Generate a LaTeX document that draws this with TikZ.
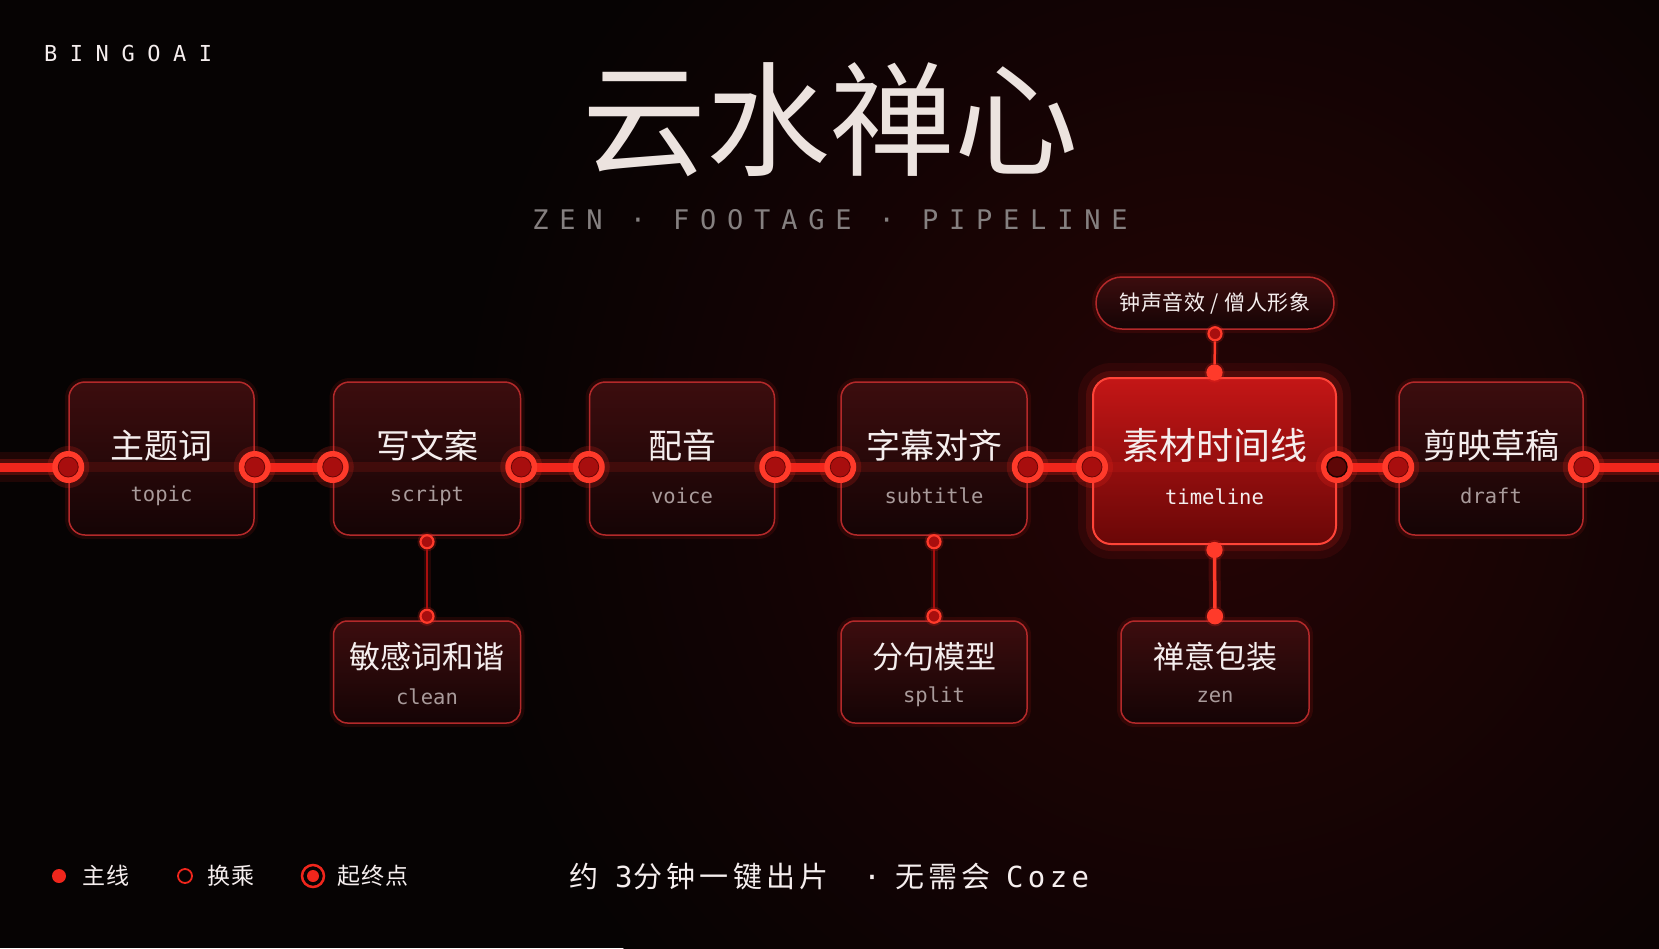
\documentclass[tikz,border=0pt]{standalone}
\usepackage{fontspec}
\setmainfont{DejaVu Sans}
\newfontfamily\cjk{Noto Sans CJK SC}
\newfontfamily\cjkls{Noto Sans CJK SC}[LetterSpace=15]
\newfontfamily\cjklg{Noto Sans CJK SC}[LetterSpace=5]
\newfontfamily\cjkpill{Noto Sans CJK SC}[LetterSpace=3]
\newfontfamily\mono{DejaVu Sans Mono}
\newfontfamily\monols{DejaVu Sans Mono}[LetterSpace=15]
\newfontfamily\monosub{DejaVu Sans Mono}[LetterSpace=40]
\newfontfamily\monobrand{DejaVu Sans Mono}[LetterSpace=57]
\usetikzlibrary{calc}

\definecolor{bg}{HTML}{060303}
\definecolor{glowc}{HTML}{260405}
\definecolor{boxtop}{HTML}{3C0D0E}
\definecolor{boxbot}{HTML}{150405}
\definecolor{boxedge}{HTML}{B3292A}
\definecolor{tltop}{HTML}{C41616}
\definecolor{tlbot}{HTML}{6A0707}
\definecolor{tledge}{HTML}{FF4438}
\definecolor{mainred}{HTML}{F0261C}
\definecolor{glowred}{HTML}{FF2A20}
\definecolor{portfill}{HTML}{A80E0E}
\definecolor{portedge}{HTML}{FF3A2A}
\definecolor{portdark}{HTML}{6A0606}
\definecolor{tlportin}{HTML}{5E0707}
\definecolor{textzh}{HTML}{F5EEEE}
\definecolor{texten}{HTML}{A99B9B}
\definecolor{titlec}{HTML}{ECE3DF}
\definecolor{subc}{HTML}{858080}

\begin{document}
\begin{tikzpicture}[x=1pt,y=-1pt,
  box/.style={draw=boxedge, line width=1.5pt, rounded corners=16pt,
    minimum width=185pt, minimum height=153pt, inner sep=0pt,
    top color=boxtop, bottom color=boxbot,
    preaction={draw=glowred, line width=8pt, draw opacity=0.10}},
  subbox/.style={box, minimum height=102pt, rounded corners=14pt},
  tlbox/.style={draw=tledge, line width=2pt, rounded corners=18pt,
    minimum width=243pt, minimum height=166pt, inner sep=0pt,
    top color=tltop, bottom color=tlbot,
    preaction={draw=glowred, line width=30pt, draw opacity=0.08},
    preaction={draw=glowred, line width=14pt, draw opacity=0.15}},
  pillbox/.style={draw=boxedge, line width=1.5pt, rounded corners=26pt,
    minimum width=238pt, minimum height=52pt, inner sep=0pt,
    top color=boxtop, bottom color=boxbot,
    preaction={draw=glowred, line width=8pt, draw opacity=0.10}},
  zh/.style={text=textzh, font=\cjk\fontsize{34}{40}\selectfont, inner sep=0pt},
  zhbig/.style={zh, font=\cjk\fontsize{37}{44}\selectfont},
  zhsub/.style={zh, font=\cjk\fontsize{31}{37}\selectfont},
  en/.style={text=texten, font=\mono\fontsize{20.5}{24}\selectfont, inner sep=0pt},
  foot/.style={text=textzh, inner sep=0pt, anchor=base west},
  mainline/.style={draw=mainred, line width=9pt,
    preaction={draw=glowred, line width=30pt, draw opacity=0.10},
    preaction={draw=glowred, line width=16pt, draw opacity=0.22}},
  innerline/.style={draw=glowred, line width=10pt, draw opacity=0.12},
  port/.style={circle, minimum size=32pt, inner sep=0pt, fill=portedge,
    preaction={draw=glowred, line width=10pt, draw opacity=0.18}},
  portin/.style={circle, minimum size=20pt, inner sep=0pt, fill=portfill,
    draw=portdark, line width=0.8pt},
  sport/.style={circle, minimum size=13pt, inner sep=0pt, fill=portfill,
    draw=portedge, line width=2.2pt,
    preaction={draw=glowred, line width=6pt, draw opacity=0.2}},
  bport/.style={sport, minimum size=14pt, fill=portedge},
  subline/.style={draw=portfill, line width=2pt,
    preaction={draw=glowred, line width=7pt, draw opacity=0.12}},
  tlline/.style={draw=portedge, line width=3.5pt,
    preaction={draw=glowred, line width=12pt, draw opacity=0.15}},
]
\useasboundingbox (0,0) rectangle (1659,948);
\clip (0,0) rectangle (1659,948);
\fill[bg] (0,0) rectangle (1659,948);
\shade[inner color=glowc, outer color=bg] (1214,470) circle (760pt);

% title
\node[inner sep=0pt, text=titlec, font=\cjk\fontsize{124}{130}\selectfont] (title) at (830,120) {云水禅心};
\node[inner sep=0pt, text=subc, font=\monosub\fontsize{27}{30}\selectfont] (subtitle) at (830,220) {ZEN · FOOTAGE · PIPELINE};
\node[inner sep=0pt, anchor=west, text=textzh, font=\monobrand\fontsize{22}{26}\selectfont] (brand) at (44,53) {BINGOAI};

% axis
\coordinate (L) at (0,467);
\coordinate (R) at (1659,467);

% boxes
\node[box] (topic) at (161.5,458.5) {};
\node[box, minimum width=187pt] (script) at (427,458.5) {};
\node[box] (voice) at (682,458.5) {};
\node[box, minimum width=186pt] (subt) at (934,458.5) {};
\node[tlbox] (tl) at (1214.5,461) {};
\node[box, minimum width=184pt] (draft) at (1491,458.5) {};

\node[subbox, minimum width=187pt] (clean) at (427,672) {};
\node[subbox, minimum width=186pt] (split) at (934,672) {};
\node[subbox, minimum width=188pt] (zen) at (1215,672) {};
\node[pillbox] (pill) at (1215,303) {};

% port positions on main line
\foreach \b in {topic,script,voice,subt,tl,draft}{
  \coordinate (\b Lc) at (\b.west |- L);
  \coordinate (\b Rc) at (\b.east |- L);
}

% main line segments
\draw[mainline] (L) -- (topicLc);
\draw[mainline] (topicRc) -- (scriptLc);
\draw[mainline] (scriptRc) -- (voiceLc);
\draw[mainline] (voiceRc) -- (subtLc);
\draw[mainline] (subtRc) -- (tlLc);
\draw[mainline] (tlRc) -- (draftLc);
\draw[mainline] (draftRc) -- (R);
\foreach \b in {topic,script,voice,subt,draft,tl}{
  \draw[innerline] (\b Lc) -- (\b Rc);
}

\foreach \b in {topic,script,voice,subt,tl,draft}{
  \node[port] (\b L) at (\b Lc) {};
  \node[portin] (\b Lin) at (\b Lc) {};
  \node[port] (\b R) at (\b Rc) {};
}
\foreach \b in {topic,script,voice,subt,draft}{
  \node[portin] (\b Rin) at (\b Rc) {};
}
\node[portin, fill=tlportin, draw=black!70!tlportin, line width=1.4pt] (tlRin) at (tlRc) {};

% branch ports
\node[sport] (scriptB) at ([yshift=-6pt]script.south) {};
\node[sport] (cleanT) at ([yshift=4pt]clean.north) {};
\node[sport] (subtB) at ([yshift=-6pt]subt.south) {};
\node[sport] (splitT) at ([yshift=4pt]split.north) {};
\node[bport] (tlB) at ([yshift=-5pt]tl.south) {};
\node[bport] (zenT) at ([yshift=4pt]zen.north) {};
\node[sport] (pillB) at ([yshift=-4pt]pill.south) {};
\node[bport] (tlT) at ([yshift=4.5pt]tl.north) {};

\draw[subline] (scriptB) -- (cleanT);
\draw[subline] (subtB) -- (splitT);
\draw[tlline] (tlB) -- (zenT);
\draw[subline, draw=portedge, line width=2.5pt] (pillB) -- (tlT);

% labels
\node[zh] (topiczh) at ([yshift=13pt]topic.center) {主题词};
\node[en] (topicen) at ([yshift=-37pt]topic.center) {topic};
\node[zh] (scriptzh) at ([yshift=13pt]script.center) {写文案};
\node[en] (scripten) at ([yshift=-37pt]script.center) {script};
\node[zh] (voicezh) at ([yshift=13pt]voice.center) {配音};
\node[en] (voiceen) at ([yshift=-37pt]voice.center) {voice};
\node[zh] (subtzh) at ([yshift=13pt]subt.center) {字幕对齐};
\node[en] (subten) at ([yshift=-37pt]subt.center) {subtitle};
\node[zhbig] (tlzh) at ([yshift=16pt]tl.center) {素材时间线};
\node[en, text=textzh] (tlen) at ([yshift=-36pt]tl.center) {timeline};
\node[zh] (draftzh) at ([yshift=13pt]draft.center) {剪映草稿};
\node[en] (draften) at ([yshift=-37pt]draft.center) {draft};

\node[zhsub] (cleanzh) at ([yshift=15pt]clean.center) {敏感词和谐};
\node[en] (cleanen) at ([yshift=-25pt]clean.center) {clean};
\node[zhsub] (splitzh) at ([yshift=15pt]split.center) {分句模型};
\node[en] (spliten) at ([yshift=-25pt]split.center) {split};
\node[zhsub] (zenzh) at ([yshift=15pt]zen.center) {禅意包装};
\node[en] (zenen) at ([yshift=-25pt]zen.center) {zen};
\node[zh, font=\cjkpill\fontsize{21}{25}\selectfont] (pillzh) at (pill.center) {钟声音效 / 僧人形象};

% legend
\node[circle, minimum size=14pt, inner sep=0pt, fill=mainred] (lgdot) at (59,876) {};
\node[zh, anchor=west, font=\cjklg\fontsize{23}{27}\selectfont] (lg1) at (82,876) {主线};
\node[circle, minimum size=14pt, inner sep=0pt, draw=mainred, line width=1.8pt] (lgring) at (185,876) {};
\node[zh, anchor=west, font=\cjklg\fontsize{23}{27}\selectfont] (lg2) at (207,876) {换乘};
\node[circle, minimum size=22pt, inner sep=0pt, draw=mainred, line width=2.5pt] (lgend) at (313,876) {};
\node[circle, minimum size=12pt, inner sep=0pt, fill=mainred] (lgendin) at (313,876) {};
\node[zh, anchor=west, font=\cjklg\fontsize{23}{27}\selectfont] (lg3) at (337,876) {起终点};

% footer line
\node[foot, font=\cjkls\fontsize{29}{34}\selectfont] (f1) at (569,887) {约};
\node[foot, font=\monols\fontsize{29}{34}\selectfont] (f2) at (615,887) {3};
\node[foot, font=\cjkls\fontsize{29}{34}\selectfont] (f3) at (633,887) {分钟一键出片};
\node[foot, font=\monols\fontsize{29}{34}\selectfont, anchor=base] (f4) at (872,887) {·};
\node[foot, font=\cjkls\fontsize{29}{34}\selectfont] (f5) at (895,887) {无需会};
\node[foot, font=\monols\fontsize{29}{34}\selectfont] (f6) at (1006,887) {Coze};
\end{tikzpicture}
\end{document}
